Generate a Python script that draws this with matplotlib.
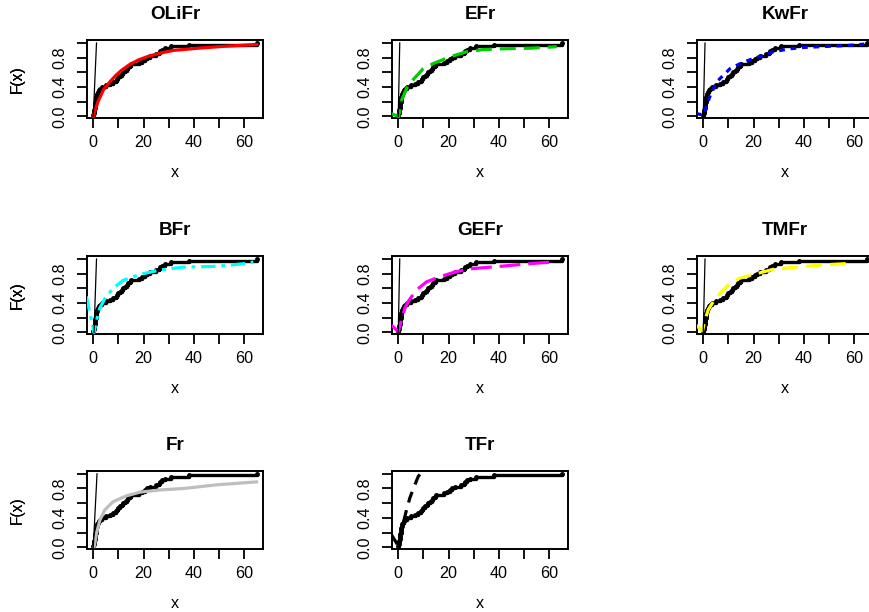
import numpy as np
import matplotlib
matplotlib.use("Agg")
import matplotlib.pyplot as plt

plt.rcParams['font.family'] = ['Liberation Sans', 'DejaVu Sans']

obs = [0.1, 0.2, 0.3, 0.4, 0.5, 0.6, 0.7, 0.8, 0.9, 1.0, 1.1, 1.2, 1.3, 1.5,
       1.8, 2.2, 2.6, 3.5, 5.0, 6.6, 8.0, 9.0, 9.6, 10.0, 10.8, 11.5, 12.0,
       12.8, 13.4, 13.9, 14.5, 15.0, 18.0, 19.2, 20.4, 21.5, 22.4, 25.0,
       26.0, 26.5, 27.2, 28.5, 31.0, 38.0, 65.0]

# fitted CDFs
olifr_x = [0, 0.7, 2, 4, 6.6, 9, 11.3, 14.6, 18, 22, 26.3, 32, 42, 52, 65]
olifr_F = [0, 0.08, 0.21, 0.36, 0.47, 0.56, 0.63, 0.71, 0.77, 0.82, 0.86, 0.9, 0.93, 0.955, 0.98]
efr_x = [-3, 0.2, 1.3, 3.3, 5.9, 9.9, 13.9, 20.4, 27, 33.6, 40, 53, 63]
efr_F = [0.04, 0.0, 0.22, 0.38, 0.5, 0.65, 0.72, 0.81, 0.88, 0.91, 0.92, 0.93, 0.95]
kwfr_x = [-3, 0.1, 1.3, 2.6, 5.3, 10.6, 15.9, 21, 27.8, 34, 40, 50, 57, 64]
kwfr_F = [0.04, 0.02, 0.14, 0.27, 0.47, 0.65, 0.74, 0.8, 0.88, 0.92, 0.94, 0.955, 0.965, 0.985]
bfr_x = [-2.7, 0.3, 1.3, 2.6, 4.6, 7.9, 11.9, 18.5, 26.5, 35.8, 49, 60.9, 63.6]
bfr_F = [0.49, 0.0, 0.17, 0.33, 0.46, 0.6, 0.71, 0.79, 0.85, 0.89, 0.9, 0.94, 0.96]
gefr_x = [-2.7, 0, 1.3, 2.6, 4.3, 7.3, 11.3, 16.6, 23.2, 29.8, 40.4, 53.6, 61.6]
gefr_F = [0.1, 0.01, 0.17, 0.33, 0.44, 0.58, 0.69, 0.76, 0.83, 0.87, 0.9, 0.94, 0.96]
tmfr_x = [-2.9, -0.3, 0.7, 2, 4, 6.6, 10.6, 14.6, 21.2, 27.8, 37.1, 47.7, 58.3]
tmfr_F = [0.1, 0.02, 0.17, 0.31, 0.42, 0.53, 0.67, 0.74, 0.8, 0.86, 0.89, 0.92, 0.94]
fr_x = [0.4, 1.3, 2.65, 4.6, 7.9, 13.2, 18.5, 26.5, 35.8, 49, 64.9]
fr_F = [0.01, 0.19, 0.37, 0.51, 0.62, 0.7, 0.75, 0.78, 0.8, 0.85, 0.89]
tfr_x = [-2.7, 0, 1, 2, 3.3, 4.6, 6, 7.9, 9.7, 11]
tfr_F = [0.17, 0.02, 0.15, 0.33, 0.51, 0.67, 0.8, 0.96, 1.05, 1.12]

names = ['OLiFr', 'EFr', 'KwFr', 'BFr', 'GEFr', 'TMFr', 'Fr', 'TFr']
curves_x = [olifr_x, efr_x, kwfr_x, bfr_x, gefr_x, tmfr_x, fr_x, tfr_x]
curves_F = [olifr_F, efr_F, kwfr_F, bfr_F, gefr_F, tmfr_F, fr_F, tfr_F]
colors = ['#FF0000', '#00CD00', '#0000FF', '#00FFFF', '#FF00FF', '#FFFF00', '#BEBEBE', '#000000']
styles = ['-', (0, (5, 2.5)), (0, (1.8, 1.8)), (0, (4.5, 1.8, 1.2, 1.8)),
          (0, (6.5, 2.5)), (0, (5, 2.5)), '-', (0, (3.5, 2.5))]
# thin steep reference line (x where it reaches 1), none in TFr
thin_top = [1.3, 0.6, 0.7, 1.3, 0.6, 0.7, 1.5, None]

x_ticks = [0, 10, 20, 30, 40, 50, 60]
x_labels = ['0', '', '20', '', '40', '', '60']
y_ticks = [0, 0.2, 0.4, 0.6, 0.8, 1.0]
y_labels = ['0.0', '', '0.4', '', '0.8', '']

W, H = 869, 612
fig = plt.figure(figsize=(W / 100, H / 100), dpi=100)

col_left = [86.7, 391.7, 696.7]
row_top = [39.7, 255.7, 470.5]
bw, bh = 176.7, 78.6

xs = np.sort(np.array(obs))
Fs = np.arange(1, len(xs) + 1) / len(xs)

for k, name in enumerate(names):
    r, c = divmod(k, 3)
    l, t = col_left[c], row_top[r]
    ax = fig.add_axes([l / W, 1 - (t + bh) / H, bw / W, bh / H])
    ax.set_xlim(-2.6, 67.6)
    ax.set_ylim(-0.025, 1.045)

    # empirical cdf
    ax.step(np.r_[xs[0], xs], np.r_[0, Fs], where='post', color='black', lw=2.4, zorder=3)
    ax.plot(xs, Fs, 'o', color='black', ms=2.5, zorder=3)

    # fitted model
    ax.plot(curves_x[k], curves_F[k], color=colors[k], ls=styles[k], lw=2.3, zorder=4)

    if thin_top[k] is not None:
        x0 = 0.3 if name == 'BFr' else 0.0
        ax.plot([x0, thin_top[k]], [0, 1], color='black', lw=0.9, zorder=5)

    ax.set_xticks(x_ticks)
    ax.set_xticklabels(x_labels)
    ax.set_yticks(y_ticks)
    ax.set_yticklabels(y_labels)
    ax.tick_params(direction='out', length=7, width=1.3, labelsize=11.6, color='black')
    ax.tick_params(axis='x', pad=5)
    ax.tick_params(axis='y', pad=7, labelrotation=90)
    for lab in ax.get_yticklabels():
        lab.set_va('center')
    for s in ax.spines.values():
        s.set_linewidth(1.4)

    ax.text(0.5, 1 + 20.8 / bh, name, transform=ax.transAxes, ha='center',
            va='baseline', fontsize=13.6, fontweight='bold')
    ax.text(0.5, -58.5 / bh, 'x', transform=ax.transAxes, ha='center',
            va='baseline', fontsize=11.6)
    ax.text((17 - l) / bw, 0.5, 'F(x)', transform=ax.transAxes, ha='center',
            va='center', rotation=90, fontsize=11.2)

fig.savefig('out.png', dpi=100)
